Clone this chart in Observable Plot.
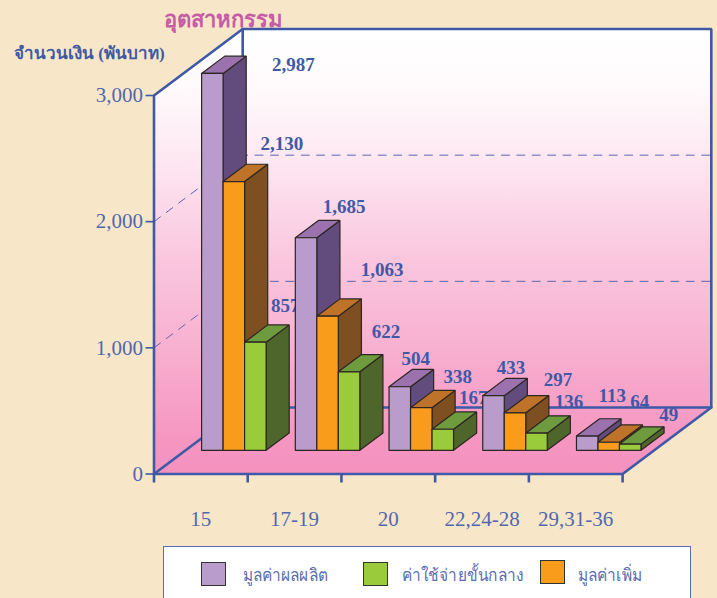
<!DOCTYPE html>
<html>
<head>
<meta charset="utf-8">
<script src="https://cdn.jsdelivr.net/npm/d3@7"></script>
<script src="https://cdn.jsdelivr.net/npm/@observablehq/plot@0.6"></script>
<style>
html,body{margin:0;padding:0;background:#f8e6c8;width:717px;height:598px;overflow:hidden}
#wrap{position:relative;width:717px;height:598px;overflow:hidden}
#chart svg{display:block;background:none}
#title{position:absolute;left:164px;top:5px;font:bold 22px "Liberation Serif",serif;color:#c65ba6;line-height:30px}
#unit{position:absolute;left:14px;top:41px;font:bold 17px "Liberation Serif",serif;color:#3f59a6;line-height:26px}
#legend{position:absolute;left:163px;top:546px;width:528px;height:70px;background:#fff;border:1px solid #5a6cb0;box-sizing:border-box}
#legend .s{position:absolute;width:25px;height:24px;border:1.5px solid #333;box-sizing:border-box}
#legend .t{position:absolute;top:14px;font:17px "Noto Sans","Liberation Sans",sans-serif;color:#5a6cb0;line-height:28px;white-space:nowrap;transform:scaleX(.91);transform-origin:left center}
</style>
</head>
<body>
<div id="wrap">
<div id="chart"></div>
<div id="title"></div>
<div id="unit"></div>
<div id="legend"></div>
</div>
<script>
// Data
const categories = ["15", "17-19", "20", "22,24-28", "29,31-36"];
const output = [2987, 1685, 504, 433, 113];        // มูลค่าผลผลิต
const valueAdded = [2130, 1063, 338, 297, 64];     // มูลค่าเพิ่ม
const intermediate = [857, 622, 167, 136, 49];     // ค่าใช้จ่ายขั้นกลาง
const seriesNames = ["มูลค่าผลผลิต", "มูลค่าเพิ่ม", "ค่าใช้จ่ายขั้นกลาง"];
const yTicks = [0, 1000, 2000, 3000];
const titleText = "อุตสาหกรรม";
const unitText = "จำนวนเงิน (พันบาท)";

// Label nudges (px from each bar's top centre), in the order of the series above
const nudgeX = [[81, 38, 16, 17.5, 25], [48, 54.5, 36.5, 43, 31], [30, 37, 30.5, 32.5, 38.6]];
const nudgeY = [[-2, -25, -22, -22, -34], [-31.5, -40, -24.5, -27, -34], [-30, -34, -25, -25, -23]];

// Styles
const faces = [
  {front: "#b99ccb", top: "#9b72ae", side: "#624b7d"},
  {front: "#f99c1b", top: "#bf7328", side: "#7e4f20"},
  {front: "#99cb3a", top: "#6f9b3f", side: "#4e652c"}
];
const blue = "#3f59a6", ink = "#2c2622", textBlue = "#3f59a6";

// Oblique projection in data units: x in bands, y in baht, z is the depth 0..1
const xRange = [153.5, 622.1], yRange = [473.5, 95];
const pxPerBand = (xRange[1] - xRange[0]) / 5;
const pxPerValue = (yRange[0] - yRange[1]) / 3000;
const depthX = 88.7 / pxPerBand, depthY = 66.5 / pxPerValue;
const proj = (x, v, z) => ({x: x + z * depthX, y: v + z * depthY});
const zFront = 0.356, zBack = 0.6165;
const barStart = 0.171, barW = 0.2294;

const poly = (id, pts) => [...pts, pts[0]].map(p => ({id, ...p}));
const series = [output, valueAdded, intermediate];

// Bars drawn series by series so that each one overlaps the side of the one before
const barMarks = [];
const labels = [];
series.forEach((vals, s) => {
  const f = faces[s];
  const side = [], top = [], front = [];
  vals.forEach((v, g) => {
    const x0 = g + barStart + s * barW, x1 = x0 + barW;
    side.push(...poly(`${s}-${g}`, [proj(x1, 0, zFront), proj(x1, 0, zBack), proj(x1, v, zBack), proj(x1, v, zFront)]));
    top.push(...poly(`${s}-${g}`, [proj(x0, v, zFront), proj(x1, v, zFront), proj(x1, v, zBack), proj(x0, v, zBack)]));
    front.push(...poly(`${s}-${g}`, [proj(x0, 0, zFront), proj(x1, 0, zFront), proj(x1, v, zFront), proj(x0, v, zFront)]));
    const c = proj((x0 + x1) / 2, v, zFront);
    labels.push({x: c.x + nudgeX[s][g] / pxPerBand, y: c.y - nudgeY[s][g] / pxPerValue, v});
  });
  for (const [pts, fill] of [[side, f.side], [top, f.top], [front, f.front]]) {
    barMarks.push(Plot.line(pts, {x: "x", y: "y", z: "id", fill, stroke: ink, strokeWidth: 1.2, strokeLinejoin: "miter"}));
  }
});

// Walls and floor
const wallTop = 3000;
const leftWall = poly("l", [proj(0, 0, 0), proj(0, 0, 1), proj(0, wallTop, 1), proj(0, wallTop, 0)]);
const backWall = poly("b", [proj(0, 0, 1), proj(5, 0, 1), proj(5, wallTop, 1), proj(0, wallTop, 1)]);
const floor = poly("f", [proj(0, 0, 0), proj(5, 0, 0), proj(5, 0, 1), proj(0, 0, 1)]);

const seg = (id, ...pts) => pts.map(p => ({id, ...p}));
const frame = [
  ...seg("a", proj(0, 0, 0), proj(0, wallTop, 0), proj(0, wallTop, 1), proj(5, wallTop, 1), proj(5, 0, 1), proj(5, 0, 0), proj(0, 0, 0)),
  ...seg("b", proj(0, 0, 0), proj(0, 0, 1), proj(5, 0, 1)),
  ...seg("c", proj(0, 0, 1), proj(0, wallTop, 1))
];
const grid = [1000, 2000].flatMap(v => seg(v, proj(0, v, 0), proj(0, v, 1), proj(5, v, 1)));

const gradientDef = () => {
  const defs = d3.create("svg:defs");
  const g = defs.append("linearGradient").attr("id", "wallGrad").attr("gradientUnits", "userSpaceOnUse")
    .attr("x1", 0).attr("x2", 0).attr("y1", 30).attr("y2", 474);
  [[0, "#ffffff"], [0.12, "#fffbfc"], [0.3, "#fde6f1"], [0.5, "#fac8df"], [0.72, "#f8b0d0"], [0.79, "#f7a6cb"], [0.92, "#f596c1"], [1, "#f592bf"]]
    .forEach(([o, c]) => g.append("stop").attr("offset", o).attr("stop-color", c));
  return defs.node();
};

const plot = Plot.plot({
  width: 717,
  height: 540,
  marginLeft: xRange[0],
  marginRight: 717 - xRange[1],
  marginTop: yRange[1],
  marginBottom: 540 - yRange[0],
  style: {background: "none", overflow: "visible"},
  x: {type: "linear", domain: [0, 5], range: xRange},
  y: {type: "linear", domain: [0, 3000], range: yRange},
  marks: [
    gradientDef,
    Plot.line(leftWall, {x: "x", y: "y", z: "id", fill: "url(#wallGrad)", stroke: "none"}),
    Plot.line(backWall, {x: "x", y: "y", z: "id", fill: "url(#wallGrad)", stroke: "none"}),
    Plot.line(floor, {x: "x", y: "y", z: "id", fill: "url(#wallGrad)", stroke: "none"}),
    Plot.line(grid, {x: "x", y: "y", z: "id", stroke: "#5c66ae", strokeWidth: 1, strokeDasharray: "8,7.4"}),
    Plot.line(frame, {x: "x", y: "y", z: "id", stroke: blue, strokeWidth: 2.6, strokeLinejoin: "miter"}),
    Plot.axisY({ticks: yTicks, tickFormat: d3.format(","), tickSize: 8, tickPadding: 3, label: null,
      color: blue, stroke: blue, strokeWidth: 1.6,
      fontSize: 21, fontFamily: "Liberation Serif", fill: "#5068b0"}),
    Plot.axisX({ticks: [0, 1, 2, 3, 4, 5], tickFormat: null, tickSize: 9, label: null, stroke: blue, strokeWidth: 2.6, text: null}),
    Plot.axisX({ticks: [0.5, 1.5, 2.5, 3.5, 4.5], tickFormat: d => categories[d - 0.5], tickSize: 0, tickPadding: 37, label: null,
      fontSize: 21, fontFamily: "Liberation Serif", fill: "#5068b0"}),
    Plot.text(labels, {x: "x", y: "y", text: d => d3.format(",")(d.v), fill: textBlue, stroke: "none",
      fontSize: 19, fontWeight: "bold", fontFamily: "Liberation Serif", textAnchor: "middle", lineAnchor: "bottom"}),
    ...barMarks
  ]
});
document.getElementById("chart").append(plot);
document.getElementById("title").textContent = titleText;
document.getElementById("unit").textContent = unitText;

// Legend, in the order of the reference
const legend = document.getElementById("legend");
[[0, 37, 79, 15], [2, 199, 238, 15], [1, 376, 414, 13]].forEach(([s, sx, tx, sy]) => {
  const sw = document.createElement("div");
  sw.className = "s"; sw.style.left = sx + "px"; sw.style.top = sy + "px"; sw.style.background = faces[s].front;
  const t = document.createElement("div");
  t.className = "t"; t.style.left = tx + "px"; t.textContent = seriesNames[s];
  legend.append(sw, t);
});
</script>
</body>
</html>
